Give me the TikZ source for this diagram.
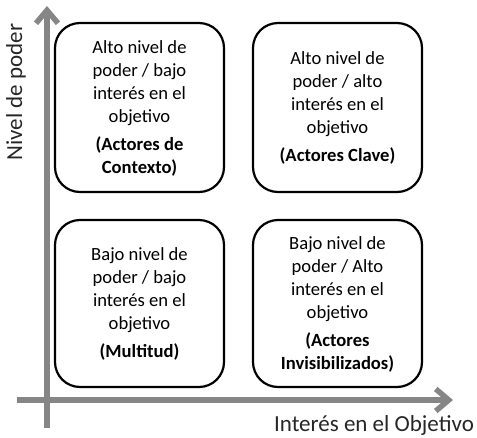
\documentclass[tikz,border=0pt]{standalone}
\usepackage{fontspec}
\setmainfont{Carlito}
\usetikzlibrary{arrows.meta}
\definecolor{axisgray}{RGB}{134,134,134}
\tikzset{
  quad/.style={draw=black, line width=2.2pt, rounded corners=25pt},
  quadtext/.style={align=center, font=\fontsize{18.6}{23}\selectfont, inner sep=0pt},
  axisline/.style={draw=axisgray, line width=5.5pt, -{Straight Barb[length=13pt,width=22pt]}},
  axislabel/.style={font=\fontsize{23}{27}\selectfont, inner sep=0pt, text=black!85}
}
\begin{document}
\begin{tikzpicture}[x=1pt,y=-1pt]
\useasboundingbox (0,0) rectangle (477,437);
% quadrants
\draw[quad] (55,23) rectangle (224,192);
\draw[quad] (253,23) rectangle (422,192);
\draw[quad] (55,220) rectangle (224,387);
\draw[quad] (253,220) rectangle (422,387);
\node[quadtext] (tl) at (139.5,108) {Alto nivel de\\poder / bajo\\interés en el\\objetivo\\[5pt]\textbf{(Actores de}\\\textbf{Contexto)}};
\node[quadtext] (tr) at (337.5,108) {Alto nivel de\\poder / alto\\interés en el\\objetivo\\[5pt]\textbf{(Actores Clave)}};
\node[quadtext] (bl) at (139.5,304) {Bajo nivel de\\poder / bajo\\interés en el\\objetivo\\[5pt]\textbf{(Multitud)}};
\node[quadtext] (br) at (337.5,304) {Bajo nivel de\\poder / Alto\\interés en el\\objetivo\\[5pt]\textbf{(Actores}\\\textbf{Invisibilizados)}};
% axes
\coordinate (vstart) at (47,428);
\coordinate (vend) at (47,6);
\coordinate (hstart) at (17,400);
\coordinate (hend) at (453,400);
\draw[axisline] (vstart) -- (vend);
\draw[axisline] (hstart) -- (hend);
\node[axislabel, rotate=90, anchor=center] (ylab) at (16,92) {Nivel de poder};
\node[axislabel, anchor=center] (xlab) at (374,425) {Interés en el Objetivo};
\end{tikzpicture}
\end{document}
